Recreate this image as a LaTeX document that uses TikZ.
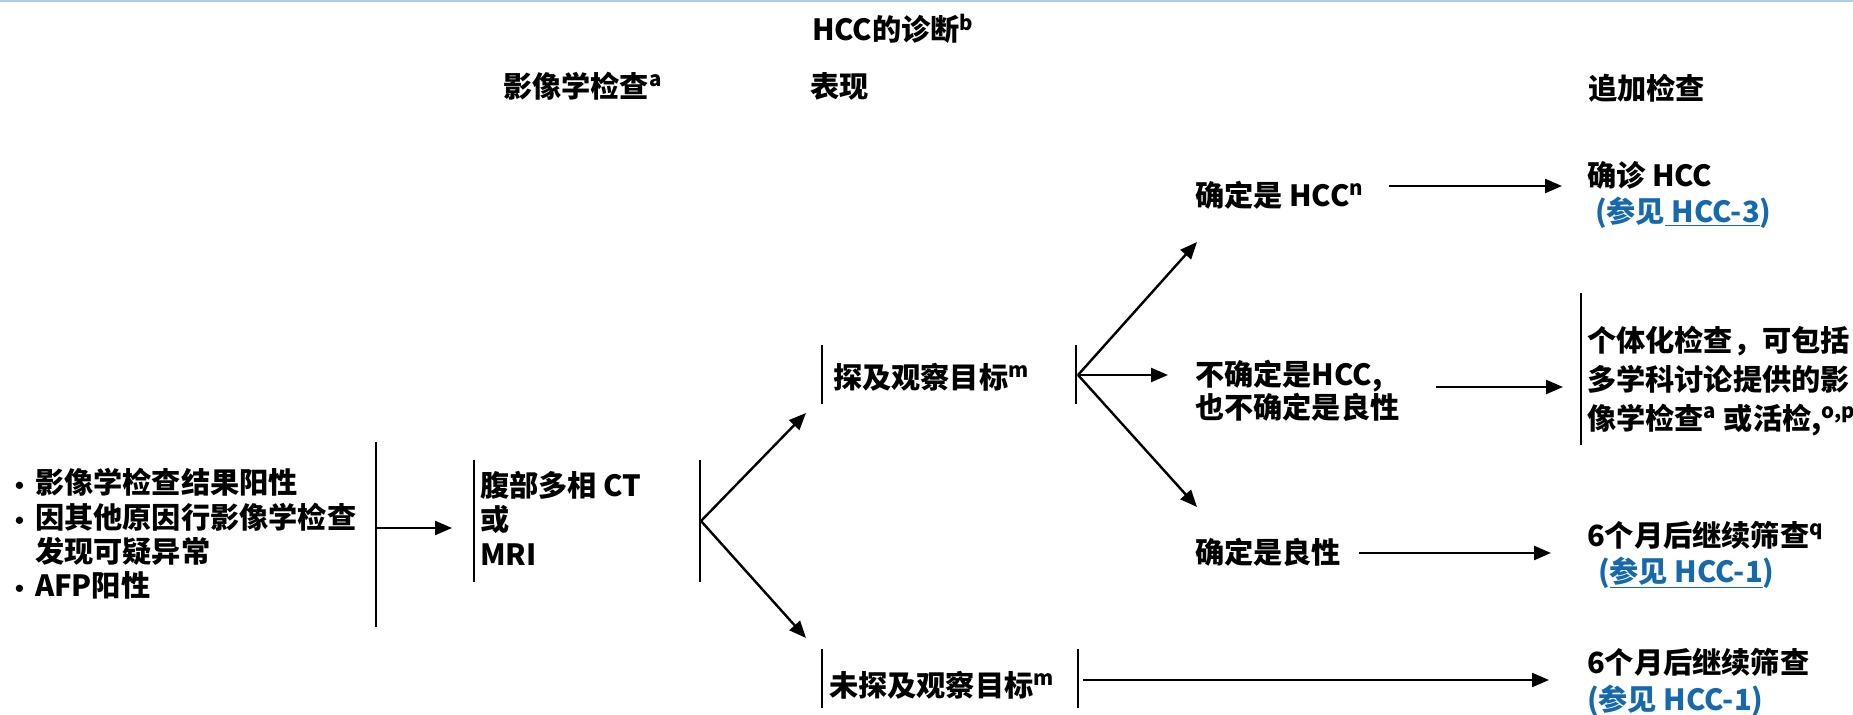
\documentclass[tikz,border=0pt]{standalone}
\usepackage{fontspec}
\usepackage{graphicx}
\setmainfont{Noto Sans CJK SC}
\usetikzlibrary{arrows.meta}
\definecolor{linkblue}{RGB}{22,106,172}
\definecolor{topline}{RGB}{168,208,226}
\newcommand{\bul}{\makebox[10.5pt][l]{\hspace{0.5pt}\raisebox{1.5pt}{\scalebox{0.65}{$\bullet$}}}}
\begin{document}
\begin{tikzpicture}[x=0.5pt,y=-0.5pt,
  txt/.style={anchor=west,inner sep=0pt,outer sep=0pt,align=left,font=\fontsize{14.6}{17}\selectfont\bfseries},
  bar/.style={line width=1.2pt},
  arr/.style={line width=1.2pt,-{Triangle[length=8.5pt,width=7pt]}},
  link/.style={text=linkblue}]
\useasboundingbox (0,0) rectangle (1853,715);
\draw[topline,line width=1pt] (0,1) -- (1853,1);

% headers
\node[txt] (hdrDiag) at (812,29) {HCC的诊断\textsuperscript{b}};
\node[txt] (hdrImg) at (503,86) {影像学检查\textsuperscript{a}};
\node[txt] (hdrPres) at (810,86) {表现};
\node[txt] (hdrAdd) at (1588,88) {追加检查};

% left block
\node[txt,font=\fontsize{14.6}{17.2}\selectfont\bfseries] (start) at (14,534)
 {\bul 影像学检查结果阳性\\
  \bul 因其他原因行影像学检查\\
  \makebox[10.5pt][l]{}发现可疑异常\\
  \bul AFP阳性};
\coordinate (b1t) at (376,442);
\coordinate (b1b) at (376,627);
\coordinate (b1m) at (376,528);
\draw[bar] (b1t) -- (b1b);

% imaging
\coordinate (b2t) at (474,460);
\coordinate (b2b) at (474,582);
\coordinate (b2m) at (452,528);
\draw[bar] (b2t) -- (b2b);
\node[txt,font=\fontsize{14.6}{17.3}\selectfont\bfseries] (img) at (480,518) {腹部多相 CT\\或\\MRI};
\draw[arr] (b1m) -- (b2m);
\coordinate (b3t) at (700,460);
\coordinate (b3b) at (700,582);
\coordinate (b3v) at (701,521);
\draw[bar] (b3t) -- (b3b);

% observation seen
\coordinate (s1t) at (822,345);
\coordinate (s1b) at (822,404);
\draw[bar] (s1t) -- (s1b);
\node[txt] (seen) at (833,377) {探及观察目标\textsuperscript{m}};
\coordinate (s2t) at (1076,345);
\coordinate (s2b) at (1076,404);
\coordinate (s2v) at (1078,375);
\draw[bar] (s2t) -- (s2b);
\coordinate (seenIn) at (806,413);
\draw[arr] (b3v) -- (seenIn);

% observation not seen
\coordinate (u1t) at (822,649);
\coordinate (u1b) at (822,708);
\draw[bar] (u1t) -- (u1b);
\node[txt] (unseen) at (829,685) {未探及观察目标\textsuperscript{m}};
\coordinate (u2t) at (1078,649);
\coordinate (u2b) at (1078,708);
\coordinate (u2m) at (1078,680);
\draw[bar] (u2t) -- (u2b);
\coordinate (unseenIn) at (806,638);
\draw[arr] (b3v) -- (unseenIn);

% outcomes
\node[txt] (hcc) at (1195,195) {确定是 HCC\textsuperscript{n}};
\node[txt,font=\fontsize{14.6}{16.5}\selectfont\bfseries] (indet) at (1195,391) {不确定是HCC,\\也不确定是良性};
\node[txt] (benign) at (1195,552) {确定是良性};
\coordinate (hccIn) at (1197,242);
\coordinate (indetIn) at (1168,375);
\coordinate (benignIn) at (1197,507);
\draw[arr] (s2v) -- (hccIn);
\draw[arr] (s2v) -- (indetIn);
\draw[arr] (s2v) -- (benignIn);

% additional workup
\node[txt,font=\fontsize{14.6}{18}\selectfont\bfseries] (confirm) at (1587,195)
 {确诊 HCC\\\hspace*{4pt}{\color{linkblue}(参见\underline{ HCC-3})}};
\coordinate (r1t) at (1581,293);
\coordinate (r1b) at (1581,445);
\draw[bar] (r1t) -- (r1b);
\node[txt,font=\fontsize{14.6}{19.5}\selectfont\bfseries] (indiv) at (1587,381)
 {个体化检查，可包括\\多学科讨论提供的影\\像学检查\textsuperscript{a} 或活检,\textsuperscript{o,p}};
\node[txt,font=\fontsize{14.6}{18}\selectfont\bfseries] (rescreen) at (1587,555)
 {6个月后继续筛查\textsuperscript{q}\\\hspace*{5.5pt}{\color{linkblue}(\underline{参见 HCC-1})}};
\node[txt,font=\fontsize{14.6}{18.5}\selectfont\bfseries] (rescreen2) at (1587,682)
 {6个月后继续筛查\\{\color{linkblue}(参见 HCC-1)}};

\coordinate (hccOut) at (1389,186);
\coordinate (confirmIn) at (1562,186);
\draw[arr] (hccOut) -- (confirmIn);
\coordinate (indetOut) at (1436,387);
\coordinate (indivIn) at (1563,387);
\draw[arr] (indetOut) -- (indivIn);
\coordinate (benignOut) at (1359,553);
\coordinate (rescreenIn) at (1551,553);
\draw[arr] (benignOut) -- (rescreenIn);
\coordinate (unseenOut) at (1083,680);
\coordinate (rescreen2In) at (1549,680);
\draw[arr] (unseenOut) -- (rescreen2In);
\end{tikzpicture}
\end{document}
